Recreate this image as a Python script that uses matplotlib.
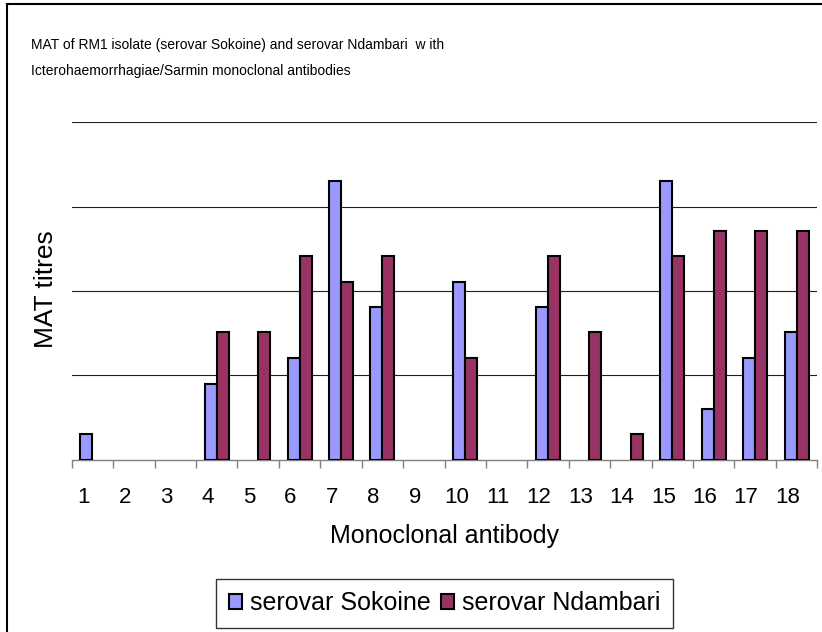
import numpy as np
import matplotlib
matplotlib.use("Agg")
import matplotlib.pyplot as plt
from matplotlib.lines import Line2D
import matplotlib.transforms as mtransforms
from matplotlib import font_manager

# data (bar heights in gridline units, axis 0..4)
antibodies = [str(i) for i in range(1, 19)]
sokoine = [0.30, 0, 0, 0.90, 0, 1.20, 3.31, 1.81, 0, 2.11, 0, 1.81, 0, 0, 3.31, 0.60, 1.20, 1.51]
ndambari = [0, 0, 0, 1.51, 1.51, 2.41, 2.11, 2.41, 0, 1.20, 0, 2.41, 1.51, 0.30, 2.41, 2.71, 2.71, 2.71]
title_lines = ["MAT of RM1 isolate (serovar Sokoine) and serovar Ndambari  w ith",
               "Icterohaemorrhagiae/Sarmin monoclonal antibodies"]

plt.rcParams['font.family'] = ['Liberation Sans', 'DejaVu Sans']
names = {f.name for f in font_manager.fontManager.ttflist}
narrow = 'Liberation Sans Narrow' in names

W, H = 822, 632
fig = plt.figure(figsize=(W / 100, H / 100), dpi=100)
fig.patch.set_facecolor('white')

# plot area in pixels
x0, x1, ytop, ybot = 71.7, 817.3, 122.3, 459.7
ax = fig.add_axes([x0 / W, 1 - ybot / H, (x1 - x0) / W, (ybot - ytop) / H])

n = len(antibodies)
x = np.arange(n) + 0.5
bw = 0.29
s = np.array(sokoine)
r = np.array(ndambari)
ks = s > 0
kr = r > 0
ax.bar(x[ks] - bw / 2, s[ks], bw, color='#9999FF', edgecolor='black', linewidth=1.5,
       label='serovar Sokoine', zorder=3)
ax.bar(x[kr] + bw / 2, r[kr], bw, color='#993366', edgecolor='black', linewidth=1.5,
       label='serovar Ndambari', zorder=3)

ax.set_xlim(0, n)
ax.set_ylim(0, 4)
ax.set_yticks([1, 2, 3, 4])
ax.yaxis.grid(True, color='#202020', linewidth=0.8)
ax.tick_params(axis='y', left=False, labelleft=False)
for sp in ['left', 'right', 'top']:
    ax.spines[sp].set_visible(False)
ax.spines['bottom'].set_color('#808080')
ax.spines['bottom'].set_linewidth(1.0)

# ticks at category boundaries, labels at centres (shifted left like the original)
ax.set_xticks(np.arange(n + 1))
ax.set_xticklabels([])
ax.tick_params(axis='x', which='major', direction='out', length=6, color='#808080', width=1)
ax.set_xticks(x, minor=True)
ax.set_xticklabels(antibodies, minor=True, fontsize=16)
ax.tick_params(axis='x', which='minor', length=0, pad=20)
offset = mtransforms.ScaledTranslation(-9 / 100, 0, fig.dpi_scale_trans)
for lbl in ax.get_xticklabels(minor=True):
    lbl.set_transform(lbl.get_transform() + offset)

fig.text(444 / W, 1 - 536 / H, 'Monoclonal antibody', fontsize=18, ha='center', va='center')
fig.text(46 / W, 1 - 289 / H, 'MAT titres', fontsize=19, rotation=90, ha='center', va='center')

if narrow:
    tfam, tsize = ['Liberation Sans Narrow', 'DejaVu Sans'], 12
else:
    tfam, tsize = ['Liberation Sans', 'DejaVu Sans'], 10
fig.text(31 / W, 1 - 45 / H, title_lines[0], fontsize=tsize, family=tfam, ha='left', va='center')
fig.text(31 / W, 1 - 71 / H, title_lines[1], fontsize=tsize, family=tfam, ha='left', va='center')

leg = fig.legend(loc='center', bbox_to_anchor=(444.5 / W, 1 - 603.5 / H), ncol=2,
                 fontsize=18, frameon=True, fancybox=False, handlelength=0.55,
                 handleheight=0.55, handletextpad=0.3, columnspacing=0.4,
                 borderpad=0.5, borderaxespad=0)
leg.get_frame().set_edgecolor('black')
leg.get_frame().set_linewidth(1.0)

# outer chart border (only top and left are inside the image)
fig.add_artist(Line2D([7 / W, 7 / W], [0, 1 - 4 / H], color='black', linewidth=1.5))
fig.add_artist(Line2D([7 / W, 1], [1 - 4 / H, 1 - 4 / H], color='black', linewidth=1.5))

fig.savefig('out.png', dpi=100)
